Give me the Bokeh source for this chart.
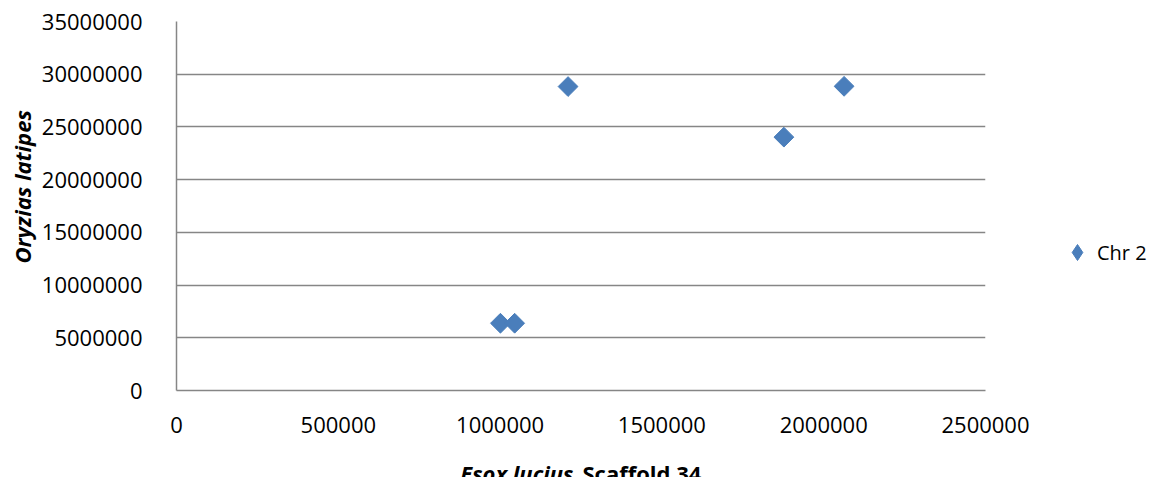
import math
from bokeh.plotting import figure
from bokeh.layouts import column, row
from bokeh.models import (ColumnDataSource, FixedTicker, BasicTickFormatter,
                          Legend, LegendItem, Range1d)
from bokeh.core.properties import value
from bokeh.embed import file_html
from bokeh.resources import INLINE

# ---- data ----
series_name = "Chr 2"
x_scaffold = [1001000, 1045000, 1210000, 1877000, 2063000]
y_oryzias = [6380000, 6380000, 28830000, 24030000, 28850000]
x_ticks = [0, 500000, 1000000, 1500000, 2000000, 2500000]
y_ticks = [0, 5000000, 10000000, 15000000, 20000000, 25000000, 30000000, 35000000]
y_title = "Oryzias latipes"
x_title_italic = "Esox lucius"
x_title_plain = "Scaffold 34"

FONT = "Open Sans"
GRID = "#868686"
BLUE = "#4A7EBB"
TITLE_SIZE = "22px"

src = ColumnDataSource(dict(x=x_scaffold, y=y_oryzias))

LEFT_W = 38
MAIN_H = 454
BOTTOM_H = 23

p = figure(frame_width=809, frame_height=369, output_backend="svg", toolbar_location=None,
           x_range=Range1d(0, 2500000), y_range=Range1d(0, 35000000),
           min_border_left=176 - LEFT_W, min_border_right=176, min_border_top=21,
           min_border_bottom=MAIN_H - 21 - 369)
p.outline_line_color = None
p.background_fill_color = "white"

r = p.scatter("x", "y", source=src, marker="square", size=14, angle=math.pi / 4,
              fill_color=BLUE, line_color=BLUE, line_width=1)
# hidden twin used only as the legend swatch (diamond shape)
key = p.scatter("x", "y", source=src, marker="diamond", fill_color=BLUE,
                line_color=BLUE, visible=False)

for ax in (p.xaxis[0], p.yaxis[0]):
    ax.major_tick_line_color = None
    ax.minor_tick_line_color = None
    ax.major_tick_in = 0
    ax.major_label_text_font = FONT
    ax.major_label_text_font_size = "22px"
    ax.major_label_text_color = "black"
    ax.axis_line_color = GRID
    ax.axis_line_width = 1.5
    ax.formatter = BasicTickFormatter(use_scientific=False)

p.xaxis.ticker = FixedTicker(ticks=x_ticks)
p.yaxis.ticker = FixedTicker(ticks=y_ticks)
p.xaxis.major_label_standoff = 20
p.yaxis.major_label_standoff = 28

p.xgrid.grid_line_color = None
p.ygrid.grid_line_color = GRID
p.ygrid.grid_line_width = 1.5

legend = Legend(items=[LegendItem(label=series_name, renderers=[key])],
                location=(72, 118), padding=0, margin=0, label_standoff=0,
                glyph_width=40, glyph_height=40,
                label_text_font=FONT, label_text_font_size="20px",
                label_text_color="black", label_text_baseline="middle",
                inactive_fill_alpha=0,
                border_line_color=None, background_fill_alpha=0)
p.add_layout(legend, "right")


def blank(width, height):
    f = figure(width=width, height=height, output_backend="svg", toolbar_location=None,
               x_range=Range1d(0, width), y_range=Range1d(0, height),
               x_axis_type=None, y_axis_type=None,
               min_border=0, outline_line_color=None, title_location=None)
    return f


# y axis title (left strip)
left = blank(LEFT_W, MAIN_H)
left.text(x=[21.5], y=[MAIN_H - 203.5], text=[y_title], angle=math.pi / 2,
          text_font=value(FONT), text_font_style="bold italic",
          text_font_size=TITLE_SIZE, text_color="black",
          text_align="center", text_baseline="middle")

# x axis title (bottom strip), mixed styles
bottom = blank(1161, BOTTOM_H)
bottom.text(x=[573], y=[5], text=[x_title_italic],
            text_font=value(FONT), text_font_style="bold italic",
            text_font_size=TITLE_SIZE, text_color="black",
            text_align="right", text_baseline="alphabetic")
bottom.text(x=[582], y=[5], text=[x_title_plain],
            text_font=value(FONT), text_font_style="bold",
            text_font_size=TITLE_SIZE, text_color="black",
            text_align="left", text_baseline="alphabetic")

layout = column(row(left, p, spacing=0), bottom, spacing=0)

open("out.html", "w").write(file_html(layout, INLINE))
